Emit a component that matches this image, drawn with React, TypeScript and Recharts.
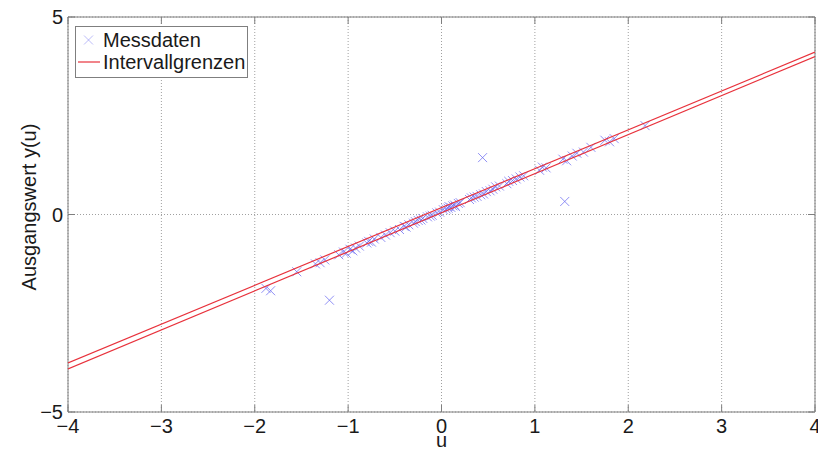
import React from 'react';
import { ScatterChart, Scatter, XAxis, YAxis, CartesianGrid, ReferenceArea, Legend } from 'recharts';

// Messdaten (u, y(u))
const messU = [
  -1.88, -1.83, -1.55, -1.35, -1.3, -1.25, -1.2, -1.1, -1.05, -1.02, -0.98, -0.95, -0.92, -0.88,
  -0.8, -0.78, -0.75, -0.72, -0.65, -0.6, -0.55, -0.5, -0.45, -0.4, -0.38, -0.35, -0.3, -0.28,
  -0.25, -0.22, -0.2, -0.15, -0.12, -0.1, -0.05, -0.02, 0.02, 0.05, 0.07, 0.08, 0.1, 0.12, 0.14,
  0.15, 0.18, 0.2, 0.3, 0.32, 0.35, 0.38, 0.42, 0.44, 0.45, 0.48, 0.52, 0.55, 0.58, 0.62, 0.7,
  0.72, 0.76, 0.8, 0.84, 0.88, 1.05, 1.08, 1.12, 1.3, 1.32, 1.34, 1.4, 1.45, 1.52, 1.6, 1.75,
  1.8, 1.85, 2.18,
];
const messY = [
  -1.87, -1.93, -1.45, -1.25, -1.22, -1.15, -2.17, -1.02, -0.95, -0.98, -0.88, -0.92, -0.85, -0.8,
  -0.72, -0.68, -0.7, -0.62, -0.58, -0.52, -0.46, -0.42, -0.38, -0.3, -0.32, -0.26, -0.22, -0.18,
  -0.15, -0.14, -0.1, -0.06, -0.04, -0.02, 0.04, 0.06, 0.12, 0.14, 0.16, 0.2, 0.18, 0.22, 0.24,
  0.2, 0.28, 0.3, 0.38, 0.42, 0.44, 0.46, 0.5, 1.44, 0.52, 0.58, 0.6, 0.64, 0.7, 0.72, 0.78,
  0.84, 0.86, 0.9, 0.95, 0.98, 1.12, 1.2, 1.18, 1.4, 0.33, 1.36, 1.48, 1.55, 1.58, 1.7, 1.88,
  1.84, 1.92, 2.25,
];

// Intervallgrenzen
const boundU = [-4, 4];
const upperY = [-3.76, 4.11];
const lowerY = [-3.91, 4.0];

const xTicks = [-4, -3, -2, -1, 0, 1, 2, 3, 4];
const yTicks = [-5, 0, 5];

const messData = messU.map((u, i) => ({ u, y: messY[i] }));
const upperData = boundU.map((u, i) => ({ u, y: upperY[i] }));
const lowerData = boundU.map((u, i) => ({ u, y: lowerY[i] }));

const W = 818;
const H = 452;
const TOP = 17;
const LEFT = 68;
const RIGHT = 815;
const BOTTOM = 412;
const FONT = '"Liberation Sans", Arial, sans-serif';
const AXIS = '#7f7f7f';
const BLUE = '#6b6bf0';
const RED = '#e8323c';

const fmt = (v: number) => (v < 0 ? '\u2212' + Math.abs(v) : String(v));

const Cross = (props: any) => {
  const { cx, cy } = props;
  if (cx == null || cy == null) return <g />;
  const s = 4.5;
  return (
    <path
      d={`M${cx - s},${cy - s}L${cx + s},${cy + s}M${cx - s},${cy + s}L${cx + s},${cy - s}`}
      stroke={BLUE}
      strokeWidth={1}
      strokeOpacity={0.75}
      fill="none"
    />
  );
};

const XTick = (props: any) => {
  const { x, payload } = props;
  return (
    <g>
      <line x1={x} x2={x} y1={BOTTOM} y2={BOTTOM - 7} stroke={AXIS} />
      <line x1={x} x2={x} y1={TOP} y2={TOP + 7} stroke={AXIS} />
      <text x={x} y={BOTTOM + 21} textAnchor="middle" fontSize={20} fontFamily={FONT} fill="#1a1a1a">
        {fmt(payload.value)}
      </text>
    </g>
  );
};

const YTick = (props: any) => {
  const { y, payload } = props;
  return (
    <g>
      <line x1={LEFT} x2={LEFT + 7} y1={y} y2={y} stroke={AXIS} />
      <line x1={RIGHT} x2={RIGHT - 7} y1={y} y2={y} stroke={AXIS} />
      <text x={LEFT - 5} y={y + 7} textAnchor="end" fontSize={20} fontFamily={FONT} fill="#1a1a1a">
        {fmt(payload.value)}
      </text>
    </g>
  );
};

const LegendBox = () => (
  <svg width={173} height={52} style={{ display: 'block' }}>
    <rect x={0.5} y={0.5} width={172} height={51} fill="#fff" stroke={AXIS} />
    <path d="M9,9.5L18,18.5M9,18.5L18,9.5" stroke={BLUE} strokeOpacity={0.45} strokeWidth={1} />
    <text x={28} y={21} fontSize={20} fontFamily={FONT} fill="#1a1a1a">Messdaten</text>
    <line x1={3} x2={25} y1={36} y2={36} stroke={RED} strokeWidth={1.2} />
    <text x={28} y={43} fontSize={20} fontFamily={FONT} fill="#1a1a1a">Intervallgrenzen</text>
  </svg>
);

export default function App() {
  return (
    <div style={{ position: 'absolute', left: 0, top: 0, width: W, height: H, background: '#fff' }}>
      <ScatterChart width={W} height={H} margin={{ top: TOP, right: W - RIGHT, bottom: 0, left: 0 }}>
        <CartesianGrid stroke="#a0a0a0" strokeDasharray="1 2" />
        <XAxis
          type="number"
          dataKey="u"
          domain={[-4, 4]}
          ticks={xTicks}
          allowDataOverflow
          height={H - BOTTOM}
          axisLine={false}
          tickLine={false}
          tickSize={0}
          tickMargin={0}
          tick={<XTick />}
          interval={0}
          label={{
            content: () => (
              <text x={(LEFT + RIGHT) / 2} y={447} textAnchor="middle" fontSize={20} fontFamily={FONT} fill="#1a1a1a">
                u
              </text>
            ),
          }}
        />
        <YAxis
          type="number"
          dataKey="y"
          domain={[-5, 5]}
          ticks={yTicks}
          allowDataOverflow
          width={LEFT}
          axisLine={false}
          tickLine={false}
          tickSize={0}
          tickMargin={0}
          tick={<YTick />}
          interval={0}
          label={{
            content: () => (
              <text
                transform={`translate(29, 207) rotate(-90)`}
                textAnchor="middle"
                dominantBaseline="central"
                fontSize={20}
                fontFamily={FONT}
                fill="#1a1a1a"
              >
                Ausgangswert y(u)
              </text>
            ),
          }}
        />
        <ReferenceArea x1={-4} x2={4} y1={-5} y2={5} fill="none" stroke={AXIS} strokeWidth={1} ifOverflow="visible" />
        <Scatter data={messData} shape={<Cross />} isAnimationActive={false} name="Messdaten" />
        <Scatter
          data={upperData}
          line={{ stroke: RED, strokeWidth: 1.2 }}
          shape={() => <g />}
          isAnimationActive={false}
          name="Intervallgrenzen"
        />
        <Scatter
          data={lowerData}
          line={{ stroke: RED, strokeWidth: 1.2 }}
          shape={() => <g />}
          isAnimationActive={false}
          legendType="none"
        />
        <Legend
          layout="vertical"
          align="center"
          verticalAlign="middle"
          content={() => <LegendBox />}
          wrapperStyle={{ left: 75, top: 26, width: 173, height: 52 }}
        />
      </ScatterChart>
    </div>
  );
}
